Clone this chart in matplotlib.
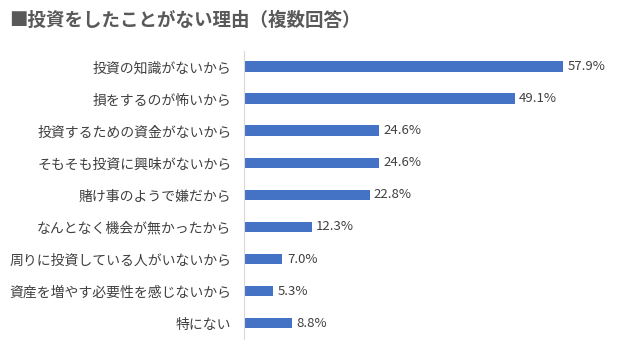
import matplotlib
matplotlib.use("Agg")
import matplotlib.pyplot as plt

plt.rcParams['font.family'] = ['Noto Sans CJK JP', 'DejaVu Sans']

reasons = [
    "投資の知識がないから",
    "損をするのが怖いから",
    "投資するための資金がないから",
    "そもそも投資に興味がないから",
    "賭け事のようで嫌だから",
    "なんとなく機会が無かったから",
    "周りに投資している人がいないから",
    "資産を増やす必要性を感じないから",
    "特にない",
]
percents = [57.9, 49.1, 24.6, 24.6, 22.8, 12.3, 7.0, 5.3, 8.8]

fig = plt.figure(figsize=(6.4, 3.51), dpi=100)
ax = fig.add_axes([0.381, 0.034, 0.603, 0.821])

y = list(range(len(reasons)))
ax.barh(y, percents, height=0.34, color="#4472C4")
for yi, v in zip(y, percents):
    ax.text(v + 0.8, yi, f"{v:.1f}%", va="center", ha="left", fontsize=9.5, color="#404040")

ax.set_ylim(len(reasons) - 0.5, -0.5)
ax.set_xlim(0, 70)
ax.set_yticks(y)
ax.set_yticklabels(reasons, fontsize=10, color="#404040")
ax.tick_params(axis="y", length=0, pad=9)
ax.set_xticks([])
for side in ["top", "right", "bottom"]:
    ax.spines[side].set_visible(False)
ax.spines["left"].set_color("#D9D9D9")

fig.text(0.014, 0.943, "■投資をしたことがない理由（複数回答）", fontsize=13.3,
         fontweight="bold", color="#595959", ha="left", va="center")

fig.savefig("out.png", dpi=100)
